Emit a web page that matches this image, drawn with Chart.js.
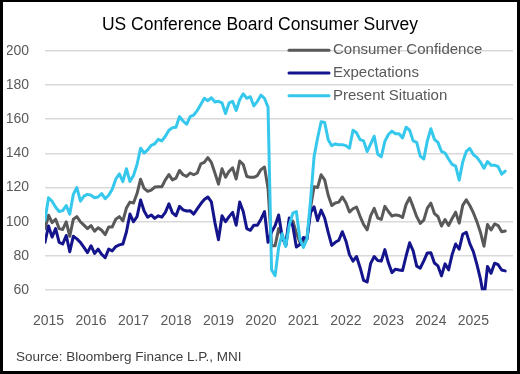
<!DOCTYPE html>
<html lang="en">
<head>
<meta charset="utf-8">
<title>US Conference Board Consumer Survey</title>
<script src="https://cdn.jsdelivr.net/npm/chart.js@4.4.1/dist/chart.umd.min.js"></script>
<style>
  html, body { margin: 0; padding: 0; background: #ffffff; }
  #box { position: relative; width: 520px; height: 374px; }
</style>
</head>
<body>
<div id="box"><canvas id="survey"></canvas></div>
<script>
// monthly readings, Dec 2014 to Oct 2025 (first value is Dec 2014)
const yearLabels = ['2015', '2016', '2017', '2018', '2019', '2020', '2021', '2022', '2023', '2024', '2025'];

const consumerConfidence = [
  96,
  103.8, 99.5, 101.5, 96, 95.5, 100, 91.5, 101.5, 103, 100, 98, 96,
  97.8, 94.5, 96.5, 95, 92.5, 97, 97, 101.5, 103, 100.5, 108, 111.5,
  111, 116.5, 124.9, 119.5, 117.8, 118.5, 120.3, 120.5, 120.5, 124.5, 127.6, 124.5,
  125.5, 130, 127.5, 126.5, 128.5, 127.5, 128.5, 133.8, 134.7, 137.5, 134.7, 128.5,
  122, 131, 126, 129.5, 131.5, 125, 135.5, 133.5, 126.5, 126, 126, 127,
  130.5, 132, 119.5, 86, 86, 96, 92, 86, 100.5, 100.5, 93.5, 88,
  88.5, 90, 108, 120.5, 120, 127.5, 124.5, 115.5, 109.5, 111, 111.5, 114.5,
  111.1, 105.7, 107.6, 108.6, 103.2, 98.4, 95.3, 103.6, 107.8, 102.2, 101.4, 109,
  106, 103.4, 104, 103.7, 102.5, 110.1, 114, 108.7, 103, 99.1, 101, 108,
  110.9, 104.8, 103.1, 97.5, 101.3, 97.8, 101.9, 105.6, 99.2, 109.6, 112.8, 109.5,
  105.3, 100.1, 93.9, 85.7, 98.4, 95.2, 98.7, 97.8, 94.2, 94.6
];

const expectations = [
  88,
  97.5, 91, 96, 88, 87, 92, 82.5, 91.5, 90, 88, 85, 82,
  86, 81.5, 84, 81, 79, 84, 83, 85.5, 86.5, 87, 94, 104.5,
  100, 103, 112.7, 106.3, 102.7, 104, 102, 103.5, 102.7, 105.5, 110.5, 105.2,
  103.5, 109, 107, 106.3, 106.5, 104.5, 107.5, 110.5, 113, 114.5, 111.6, 99.5,
  89.5, 103.5, 100, 103, 105.5, 98, 111.5, 106, 96, 95, 98, 98,
  101.5, 106, 88, 94, 97.7, 104, 91.3, 86.3, 102.2, 97.5, 85.2, 86.7,
  90.8, 90, 105.3, 108.8, 100.7, 106.8, 102.2, 93.8, 86.2, 88, 89.2, 94.2,
  88.8, 80.8, 77, 79.7, 73.3, 65.8, 64.8, 75.7, 79.7, 77.3, 77, 83.7,
  76, 70.3, 72.3, 71.8, 71.5, 80, 87.7, 83, 74.1, 72.9, 77.2, 81.8,
  81.9, 75.9, 74.2, 68.4, 75.4, 71.9, 80.8, 87, 84, 92.7, 93.9, 87.2,
  82.6, 75.1, 66.6, 55.3, 73.9, 69.9, 75.8, 74.9, 71.8, 71.3
];

const presentSituation = [
  101,
  114, 112, 108.5, 106, 106.5, 109.5, 104.5, 116, 120, 112, 115, 116,
  115.5, 114, 114.5, 116.5, 113.5, 115.5, 119, 125, 128, 123.5, 131, 123.5,
  127, 133.5, 143, 140.2, 142, 144.7, 145.6, 148.2, 147.3, 150, 153.5, 155,
  155.3, 161.5, 158.9, 157, 161.5, 162.4, 165, 168.6, 172.2, 170.8, 172.5, 170,
  170.4, 169.5, 163.3, 169.5, 170.4, 165, 171.3, 174.8, 172.2, 173.1, 167.7, 170.4,
  174, 172.2, 167, 72, 68.5, 85, 93, 85.5, 98, 105, 106, 90,
  85, 90, 112, 138, 149, 158.5, 158, 148, 144.5, 145.5, 145, 145,
  144.5, 143, 153.5, 152, 148, 147.3, 141, 145.5, 150, 139.5, 138, 147,
  151, 153, 151.5, 151.5, 149, 155.3, 153.5, 147.3, 146.4, 138.4, 136.7, 147.3,
  154.4, 148.2, 146.4, 141.1, 140.2, 136.7, 133.5, 132.5, 124.3, 135, 141.1, 142.9,
  139.3, 137.6, 134.9, 131.3, 135.2, 133.1, 133.1, 132.2, 127.8, 129.6
];

const seriesNames = ['Consumer Confidence', 'Expectations', 'Present Situation'];
const seriesColors = ['#595959', '#14148c', '#36c8ec'];
const titleText = 'US Conference Board Consumer Survey';
const sourceText = 'Source: Bloomberg Finance L.P., MNI';

// x = months counted from Jan 2015, so Dec 2014 sits at -1
const toPoints = (values) => values.map((v, i) => ({ x: i - 1, y: v }));

Chart.defaults.font.family = '"Liberation Sans", Arial, sans-serif';

// white background and the black frame round the picture
const frame = {
  id: 'frame',
  beforeDraw: (chart) => {
    const ctx = chart.ctx;
    ctx.save();
    ctx.fillStyle = '#ffffff';
    ctx.fillRect(0, 0, chart.width, chart.height);
    ctx.restore();
  },
  afterDraw: (chart) => {
    const ctx = chart.ctx;
    ctx.save();
    ctx.fillStyle = '#000000';
    ctx.fillRect(0, 0, chart.width, 2);
    ctx.fillRect(0, chart.height - 3, chart.width, 3);
    ctx.fillRect(0, 0, 3, chart.height);
    ctx.fillRect(chart.width - 3, 0, 3, chart.height);
    ctx.restore();
  }
};

// legend sits inside the plot, top right
const plotLegend = {
  id: 'plotLegend',
  afterDatasetsDraw: (chart) => {
    const ctx = chart.ctx;
    const area = chart.chartArea;
    ctx.save();
    ctx.font = '15px "Liberation Sans", Arial, sans-serif';
    ctx.textBaseline = 'middle';
    ctx.lineCap = 'round';
    ctx.lineWidth = 3;
    seriesNames.forEach((name, i) => {
      const y = area.top - 0.5 + i * 22.8;
      ctx.strokeStyle = seriesColors[i];
      ctx.beginPath();
      ctx.moveTo(area.left + 244, y);
      ctx.lineTo(area.left + 284, y);
      ctx.stroke();
      ctx.fillStyle = '#595959';
      ctx.fillText(name, area.left + 288, y);
    });
    ctx.restore();
  }
};

// source note under the x axis
const sourceNote = {
  id: 'sourceNote',
  afterDraw: (chart) => {
    const ctx = chart.ctx;
    ctx.save();
    ctx.font = '13.5px "Liberation Sans", Arial, sans-serif';
    ctx.fillStyle = '#404040';
    ctx.textBaseline = 'middle';
    ctx.fillText(sourceText, 16, chart.height - 17);
    ctx.restore();
  }
};

const lineStyle = {
  borderWidth: 3,
  pointRadius: 0,
  tension: 0,
  fill: false,
  borderJoinStyle: 'round',
  borderCapStyle: 'round'
};

new Chart(document.getElementById('survey'), {
  type: 'line',
  data: {
    datasets: [
      { ...lineStyle, label: seriesNames[0], data: toPoints(consumerConfidence), borderColor: seriesColors[0], order: 3 },
      { ...lineStyle, label: seriesNames[1], data: toPoints(expectations), borderColor: seriesColors[1], order: 2 },
      { ...lineStyle, label: seriesNames[2], data: toPoints(presentSituation), borderColor: seriesColors[2], order: 1 }
    ]
  },
  options: {
    responsive: true,
    maintainAspectRatio: false,
    animation: false,
    layout: { padding: { top: 2, left: 7, right: 7, bottom: 29 } },
    plugins: {
      legend: { display: false },
      tooltip: { enabled: false },
      title: {
        display: true,
        text: titleText,
        color: '#000000',
        font: { size: 17.5, weight: 'normal' },
        padding: { top: 12.5, bottom: 15.2 }
      }
    },
    scales: {
      x: {
        type: 'linear',
        min: -1,
        max: 131.2,
        grid: { display: false },
        border: { display: false },
        afterBuildTicks: (axis) => {
          axis.ticks = yearLabels.map((label, i) => ({ value: i * 12 }));
        },
        ticks: {
          padding: 15,
          color: '#595959',
          font: { size: 14 },
          maxRotation: 0,
          autoSkip: false,
          callback: (value) => yearLabels[value / 12]
        }
      },
      y: {
        min: 60,
        max: 200,
        afterFit: (axis) => { axis.width = 38; },
        grid: { color: '#d9d9d9', lineWidth: 1.5, drawTicks: false },
        border: { display: false },
        ticks: { stepSize: 20, padding: 16, color: '#595959', font: { size: 14 } }
      }
    }
  },
  plugins: [frame, plotLegend, sourceNote]
});
</script>
</body>
</html>
